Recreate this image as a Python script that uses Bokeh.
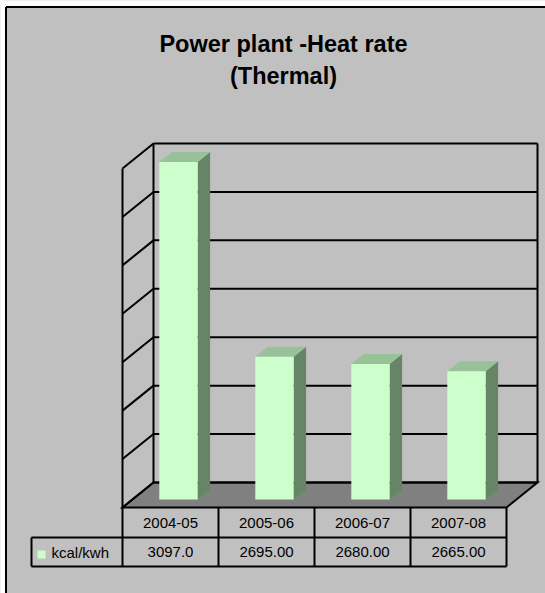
from bokeh.plotting import figure
from bokeh.models import Range1d
from bokeh.core.properties import value
from bokeh.embed import file_html
from bokeh.resources import INLINE

# ---------------- data ----------------
categories = ["2004-05", "2005-06", "2006-07", "2007-08"]
heat_rate = [3097.0, 2695.00, 2680.00, 2665.00]
heat_rate_labels = ["3097.0", "2695.00", "2680.00", "2665.00"]
series_name = "kcal/kwh"
title_lines = ["Power plant -Heat rate", "(Thermal)"]
y_min, y_max, y_step = 2400, 3100, 100

# ---------------- layout (picture pixels) ----------------
W, H = 545, 593
OFF = 0
ORG_X, ORG_Y = 122, 507          # front-left corner of the floor
PX_CAT = 96                      # pixels per category
PX_VAL = 0.4843                  # pixels per value unit
DEPTH_X, DEPTH_Y = 31, 25        # oblique depth offset
DX = DEPTH_X / PX_CAT
DY = DEPTH_Y / PX_VAL
BAR_W, BAR_OFF = 0.40, 0.28
BAR_D0, BAR_D1 = 0.32, 0.72

BG = "#c0c0c0"
FRONT, TOP, SIDE = "#ccffcc", "#99c199", "#668566"
FLOOR = "#808080"
FONT = value("Liberation Sans")


def px_x(sx):
    return (sx - ORG_X) / PX_CAT


def px_y(sy):
    return y_min + (ORG_Y - sy) / PX_VAL


def proj(u, v, d):
    return u + d * DX, v + d * DY


n = len(categories)

p = figure(width=W, height=H, output_backend="svg", toolbar_location=None,
           x_range=Range1d(px_x(OFF), px_x(OFF + W)),
           y_range=Range1d(px_y(OFF + H), px_y(OFF)),
           x_axis_type=None, y_axis_type=None, min_border=0)
p.grid.visible = False
p.outline_line_color = None
p.background_fill_color = BG
p.border_fill_color = BG

# white page strip outside the chart area, then its frame (left and top edges)
p.quad(left=[px_x(-2), px_x(-2)], right=[px_x(5), px_x(W + 2)],
       bottom=[px_y(H + 2), px_y(6)], top=[px_y(-2), px_y(-2)],
       fill_color="white", line_color=None)
p.segment(x0=[px_x(5.5), px_x(5.5)], y0=[px_y(H + 2), px_y(6.5)],
          x1=[px_x(5.5), px_x(W + 2)], y1=[px_y(6.5), px_y(6.5)],
          line_color="black", line_width=2)

# floor
fl = [proj(0, y_min, 0), proj(n, y_min, 0), proj(n, y_min, 1), proj(0, y_min, 1)]
p.patch([a for a, b in fl], [b for a, b in fl], fill_color=FLOOR,
        line_color="black", line_width=2, line_join="miter")

# walls & gridlines
gx, gy = [], []
for v in range(y_min, y_max + 1, y_step):
    a, b = proj(0, v, 1), proj(n, v, 1)
    gx.append([a[0], b[0]]); gy.append([a[1], b[1]])
    a, b = proj(0, v, 0), proj(0, v, 1)
    gx.append([a[0], b[0]]); gy.append([a[1], b[1]])
for u, d in [(0, 0), (0, 1), (n, 1)]:
    a, b = proj(u, y_min, d), proj(u, y_max, d)
    gx.append([a[0], b[0]]); gy.append([a[1], b[1]])
p.multi_line(gx, gy, line_color="black", line_width=2)

# 3-D bars
fxs, fys, txs, tys, sxs, sys_ = [], [], [], [], [], []
for i, v in enumerate(heat_rate):
    l, r = i + BAR_OFF, i + BAR_OFF + BAR_W
    pts = [proj(l, y_min, BAR_D0), proj(r, y_min, BAR_D0), proj(r, v, BAR_D0), proj(l, v, BAR_D0)]
    fxs.append([a for a, b in pts]); fys.append([b for a, b in pts])
    pts = [proj(l, v, BAR_D0), proj(r, v, BAR_D0), proj(r, v, BAR_D1), proj(l, v, BAR_D1)]
    txs.append([a for a, b in pts]); tys.append([b for a, b in pts])
    pts = [proj(r, y_min, BAR_D0), proj(r, v, BAR_D0), proj(r, v, BAR_D1), proj(r, y_min, BAR_D1)]
    sxs.append([a for a, b in pts]); sys_.append([b for a, b in pts])
p.patches(sxs, sys_, fill_color=SIDE, line_color=None)
p.patches(txs, tys, fill_color=TOP, line_color=None)
p.patches(fxs, fys, fill_color=FRONT, line_color=None)

# data table
row1_top, row1_bot, row2_bot = 507, 537, 566
leg_left = 31
tx0, ty0, tx1, ty1 = [], [], [], []
for sy in (row1_bot, row2_bot):
    tx0.append(px_x(leg_left)); tx1.append(n); ty0.append(px_y(sy)); ty1.append(px_y(sy))
for k in range(n + 1):
    tx0.append(k); tx1.append(k); ty0.append(px_y(row1_top)); ty1.append(px_y(row2_bot))
tx0.append(px_x(leg_left)); tx1.append(px_x(leg_left))
ty0.append(px_y(row1_bot)); ty1.append(px_y(row2_bot))
p.segment(x0=tx0, y0=ty0, x1=tx1, y1=ty1, line_color="black", line_width=2)

centers = [k + 0.5 for k in range(n)]
p.text(x=centers, y=[px_y((row1_top + row1_bot) / 2)] * n, text=categories,
       text_font=FONT, text_font_size="15px", text_align="center",
       text_baseline="middle", text_color="black")
p.text(x=centers, y=[px_y((row1_bot + row2_bot) / 2)] * n, text=heat_rate_labels,
       text_font=FONT, text_font_size="15px", text_align="center",
       text_baseline="middle", text_color="black")

# legend key
p.quad(left=[px_x(37)], right=[px_x(45)], bottom=[px_y(558)], top=[px_y(550)],
       fill_color=FRONT, line_color=None)
p.text(x=[px_x(51)], y=[px_y(552)], text=[series_name], text_font=FONT,
       text_font_size="15px", text_align="left", text_baseline="middle",
       text_color="black")

# title
p.text(x=[px_x(283)] * 2, y=[px_y(43.5), px_y(75)], text=title_lines,
       text_font=FONT, text_font_size="23.5px", text_font_style="bold",
       text_align="center", text_baseline="alphabetic", text_color="black")

open("out.html", "w").write(file_html(p, INLINE))
